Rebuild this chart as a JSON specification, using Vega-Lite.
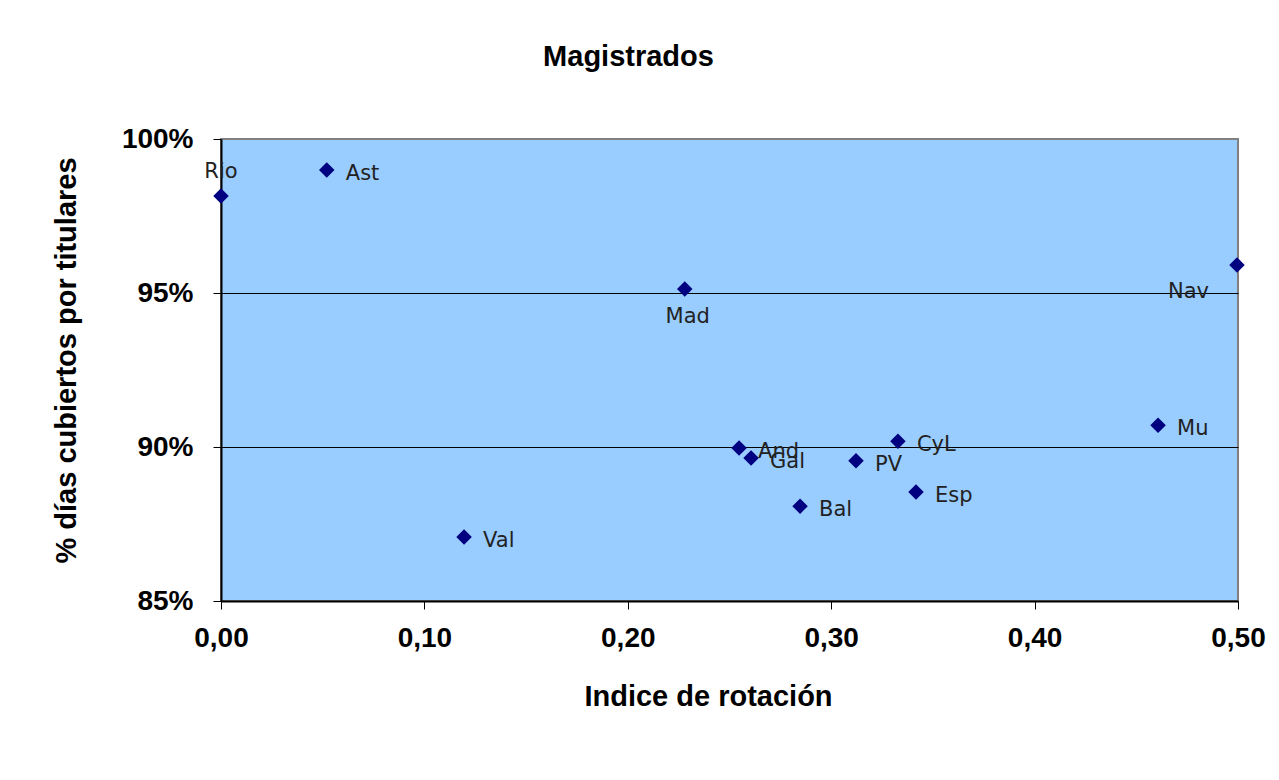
{
  "$schema": "https://vega.github.io/schema/vega-lite/v6.json",
  "width": 1017,
  "height": 462,
  "autosize": {"type": "none"},
  "padding": {"left": 221, "top": 139, "right": 41, "bottom": 179},
  "background": "white",
  "title": {
    "text": "Magistrados",
    "font": "Liberation Sans",
    "fontSize": 29,
    "fontWeight": "bold",
    "color": "black",
    "anchor": "middle",
    "dx": -101,
    "offset": 53
  },
  "config": {
    "view": {"fill": "#99CCFF", "stroke": "#808080", "strokeWidth": 2},
    "axis": {
      "labelFont": "Liberation Sans",
      "labelFontWeight": "bold",
      "labelFontSize": 28,
      "labelColor": "black",
      "labelFlush": false,
      "titleFont": "Liberation Sans",
      "titleFontWeight": "bold",
      "titleFontSize": 29,
      "titleColor": "black",
      "domainColor": "black",
      "domainWidth": 2,
      "tickColor": "black",
      "tickSize": 8,
      "tickWidth": 1
    }
  },
  "data": {
    "values": [
      {"region": "Rio", "rotacion": 0.0, "cubiertos": 0.9815},
      {"region": "Ast", "rotacion": 0.052, "cubiertos": 0.9899},
      {"region": "Mad", "rotacion": 0.228, "cubiertos": 0.9513},
      {"region": "Nav", "rotacion": 0.4995, "cubiertos": 0.9591},
      {"region": "And", "rotacion": 0.2547, "cubiertos": 0.8997},
      {"region": "Gal", "rotacion": 0.2606, "cubiertos": 0.8964},
      {"region": "PV", "rotacion": 0.3122, "cubiertos": 0.8955},
      {"region": "CyL", "rotacion": 0.3328, "cubiertos": 0.9019},
      {"region": "Esp", "rotacion": 0.3417, "cubiertos": 0.8854},
      {"region": "Bal", "rotacion": 0.2847, "cubiertos": 0.8808},
      {"region": "Val", "rotacion": 0.1195, "cubiertos": 0.8708},
      {"region": "Mu", "rotacion": 0.4607, "cubiertos": 0.9071}
    ]
  },
  "encoding": {
    "x": {
      "field": "rotacion",
      "type": "quantitative",
      "scale": {"domain": [0, 0.5], "nice": false, "zero": false},
      "axis": {
        "title": "Indice de rotación",
        "values": [0, 0.1, 0.2, 0.3, 0.4, 0.5],
        "labelExpr": "replace(format(datum.value, '.2f'), '.', ',')",
        "grid": false,
        "labelPadding": 15,
        "titlePadding": 30,
        "titleX": 487
      }
    },
    "y": {
      "field": "cubiertos",
      "type": "quantitative",
      "scale": {"domain": [0.85, 1.0], "nice": false, "zero": false},
      "axis": {
        "title": "% días cubiertos por titulares",
        "values": [0.85, 0.9, 0.95, 1.0],
        "format": ".0%",
        "grid": true,
        "gridColor": {"condition": {"test": "datum.value == 0.9 || datum.value == 0.95", "value": "black"}, "value": null},
        "gridWidth": 1,
        "labelPadding": 20,
        "titlePadding": 40,
        "titleY": 221
      }
    }
  },
  "layer": [
    {
      "mark": {"type": "point", "shape": "diamond", "filled": true, "color": "#000080", "size": 240, "opacity": 1}
    },
    {
      "transform": [{"filter": "datum.region != 'Rio' && datum.region != 'Mad' && datum.region != 'Nav'"}],
      "mark": {"type": "text", "align": "left", "baseline": "middle", "dx": 19, "dy": 4, "font": "DejaVu Sans", "fontSize": 21, "color": "#222222"},
      "encoding": {"text": {"field": "region"}}
    },
    {
      "transform": [{"filter": "datum.region == 'Rio'"}],
      "mark": {"type": "text", "align": "center", "baseline": "middle", "dy": -24, "font": "DejaVu Sans", "fontSize": 21, "color": "#222222"},
      "encoding": {"text": {"field": "region"}}
    },
    {
      "transform": [{"filter": "datum.region == 'Mad'"}],
      "mark": {"type": "text", "align": "center", "baseline": "middle", "dx": 3, "dy": 28, "font": "DejaVu Sans", "fontSize": 21, "color": "#222222"},
      "encoding": {"text": {"field": "region"}}
    },
    {
      "transform": [{"filter": "datum.region == 'Nav'"}],
      "mark": {"type": "text", "align": "right", "baseline": "middle", "dx": -28, "dy": 27, "font": "DejaVu Sans", "fontSize": 21, "color": "#222222"},
      "encoding": {"text": {"field": "region"}}
    }
  ]
}
